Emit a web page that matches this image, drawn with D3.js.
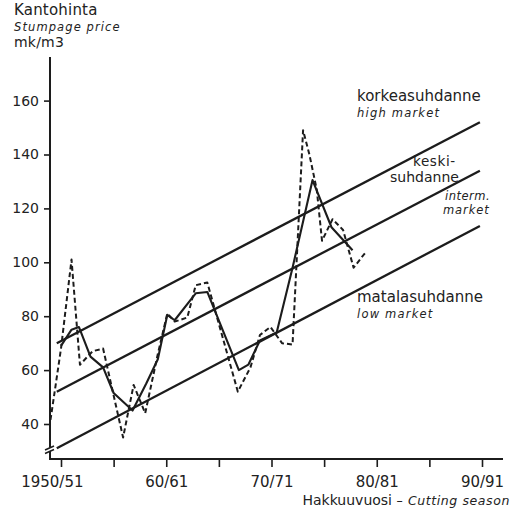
<!DOCTYPE html>
<html>
<head>
<meta charset="utf-8">
<script src="https://cdn.jsdelivr.net/npm/d3@7/dist/d3.min.js"></script>
<style>
  html, body { margin: 0; padding: 0; background: #fff; }
  svg { display: block; }
  text { font-family: "DejaVu Sans", sans-serif; fill: #222; }
</style>
</head>
<body>
<svg id="chart" width="523" height="512"></svg>
<script>
// Stumpage price (mk/m3) by cutting season
const annualYears  = [1949.0, 1949.4, 1950.0, 1951.0, 1951.8, 1953.0, 1954.0, 1955.9, 1956.9, 1958.0,
                      1959.2, 1960.1, 1960.8, 1962.0, 1962.8, 1963.9, 1966.8, 1968.0, 1968.9, 1969.9,
                      1971.0, 1972.0, 1973.0, 1973.6, 1974.3, 1974.8, 1975.8, 1976.8, 1977.8, 1979.0];
const annualPrices = [41.5, 52, 68, 101, 62, 67, 68, 35, 54.5, 44,
                      66, 81, 78, 79.5, 91.5, 92.5, 52, 61, 73, 76,
                      70, 69.5, 149, 140, 127, 108, 116, 112, 98, 104];

// Smoothed series
const smoothYears  = [1950.0, 1951.0, 1951.7, 1952.8, 1954.0, 1955.0, 1956.8, 1958.1, 1959.2, 1960.1,
                      1960.8, 1962.8, 1963.9, 1966.9, 1967.8, 1968.9, 1970.5, 1972.0, 1973.9, 1975.7, 1977.7];
const smoothPrices = [69, 75, 76, 65, 61, 51.5, 45, 55, 64, 80.5,
                      78.5, 88.5, 89, 60, 62, 71, 74, 98, 130.5, 113, 104.5];

// Market-level trend lines (start and end of each)
const trendYears    = [1949.6, 1989.8];
const highMarket    = [70, 152];
const intermMarket  = [52, 134];
const lowMarket     = [31, 113.5];

const yTicks = [40, 60, 80, 100, 120, 140, 160];
const xTicks = [1950, 1955, 1960, 1965, 1970, 1975, 1980, 1985, 1990];
const xTickLabels = { 1950: "1950/51", 1960: "60/61", 1970: "70/71", 1980: "80/81", 1990: "90/91" };

const svg = d3.select("#chart");

const x = d3.scaleLinear().domain([1950, 1990]).range([61, 482]);
const y = d3.scaleLinear().domain([40, 160]).range([424, 100.6]);

const axisX0 = 50, axisY0 = 459, axisTop = 57, axisRight = 503;
const ink = "#1c1c1c";

// Y axis
const gy = svg.append("g").attr("transform", `translate(${axisX0},0)`)
  .call(d3.axisLeft(y).tickValues(yTicks).tickSize(6).tickPadding(5).tickFormat(d3.format("d")));
gy.select(".domain").remove();
gy.selectAll(".tick line").attr("stroke", ink).attr("stroke-width", 1.6);
gy.selectAll(".tick text").style("font-size", "14px").attr("fill", ink);

// X axis
const gx = svg.append("g").attr("transform", `translate(0,${axisY0})`)
  .call(d3.axisBottom(x).tickValues(xTicks).tickSize(8).tickPadding(9)
        .tickFormat(d => xTickLabels[d] || ""));
gx.select(".domain").remove();
gx.selectAll(".tick line").attr("stroke", ink).attr("stroke-width", 1.6);
gx.selectAll(".tick text").style("font-size", "15px").attr("fill", ink);
gx.selectAll(".tick text").filter(d => d === 1950).attr("text-anchor", "end").attr("dx", 22);

// Axis lines
svg.append("line").attr("x1", axisX0).attr("x2", axisX0).attr("y1", axisTop).attr("y2", axisY0)
  .attr("stroke", ink).attr("stroke-width", 2);
svg.append("line").attr("x1", axisX0 - 1).attr("x2", axisRight).attr("y1", axisY0).attr("y2", axisY0)
  .attr("stroke", ink).attr("stroke-width", 2);

// Axis break
svg.append("polygon").attr("points", "44,450 56,445 56,448.5 44,453.5").attr("fill", "#fff");
svg.append("line").attr("x1", 45).attr("y1", 450).attr("x2", 54).attr("y2", 446)
  .attr("stroke", ink).attr("stroke-width", 1.5);
svg.append("line").attr("x1", 45).attr("y1", 453.5).attr("x2", 54).attr("y2", 449.5)
  .attr("stroke", ink).attr("stroke-width", 1.5);

// Trend lines
const line = d3.line().x(d => x(d[0])).y(d => y(d[1]));
[highMarket, intermMarket, lowMarket].forEach(vals => {
  svg.append("path")
    .attr("d", line(trendYears.map((t, i) => [t, vals[i]])))
    .attr("fill", "none").attr("stroke", ink).attr("stroke-width", 2.3);
});

// Annual prices (dashed)
svg.append("path")
  .attr("d", line(annualYears.map((t, i) => [t, annualPrices[i]])))
  .attr("fill", "none").attr("stroke", ink).attr("stroke-width", 2)
  .attr("stroke-dasharray", "5,3").attr("stroke-linejoin", "round");

// Smoothed prices (solid)
svg.append("path")
  .attr("d", line(smoothYears.map((t, i) => [t, smoothPrices[i]])))
  .attr("fill", "none").attr("stroke", ink).attr("stroke-width", 2.1).attr("stroke-linejoin", "round");

// Axis titles
function label(xp, yp, txt, size, italic, spacing) {
  return svg.append("text").attr("x", xp).attr("y", yp).text(txt)
    .style("font-size", size + "px")
    .style("font-style", italic ? "italic" : "normal")
    .style("letter-spacing", (spacing || 0) + "px");
}
label(14, 15, "Kantohinta", 15, false, 0.2);
label(14, 31, "Stumpage price", 11.5, true, 1.1);
label(14, 47, "mk/m3", 14, false, 0.2);

const xt = svg.append("text").attr("x", 510).attr("y", 505).attr("text-anchor", "end");
xt.append("tspan").text("Hakkuuvuosi ").style("font-size", "14px");
xt.append("tspan").text("– Cutting season").style("font-size", "12.5px").style("font-style", "italic").style("letter-spacing", "0.6px");

// Market labels
label(357, 101, "korkeasuhdanne", 15, false, 0);
label(357, 117, "high market", 11.5, true, 1.2);
label(413, 166, "keski-", 13.5, false, 0.6);
label(390, 182, "suhdanne", 14, false, 0);
label(445, 200, "interm.", 11.5, true, 0.5);
label(443, 214, "market", 11.5, true, 0.9);
label(357, 302, "matalasuhdanne", 15, false, 0);
label(357, 318, "low market", 11.5, true, 1.2);
</script>
</body>
</html>
